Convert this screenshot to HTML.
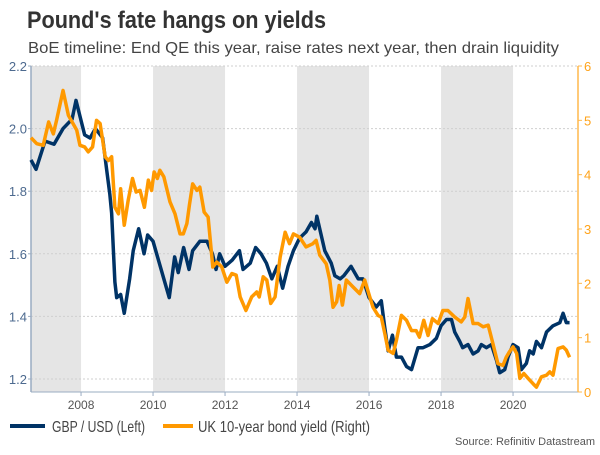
<!DOCTYPE html>
<html><head><meta charset="utf-8"><style>
body{margin:0;width:600px;height:450px;background:#fff;overflow:hidden;font-family:"Liberation Sans",sans-serif}
</style></head><body>
<svg id="chart" width="600" height="450" xmlns="http://www.w3.org/2000/svg">
<text x="27" y="28" font-size="24" font-weight="bold" fill="#333" textLength="299" lengthAdjust="spacingAndGlyphs">Pound's fate hangs on yields</text>
<text x="28" y="53" font-size="16" fill="#444" textLength="531" lengthAdjust="spacingAndGlyphs">BoE timeline: End QE this year, raise rates next year, then drain liquidity</text>
<g id="bands"></g><g id="grid"></g><g id="axes"></g><g id="series"></g>
<line x1="10" y1="426" x2="45" y2="426" stroke="#003366" stroke-width="4"/>
<text x="52" y="432" font-size="16" fill="#444" textLength="93" lengthAdjust="spacingAndGlyphs">GBP / USD (Left)</text>
<line x1="163" y1="426" x2="193" y2="426" stroke="#ff9900" stroke-width="4"/>
<text x="198" y="432" font-size="16" fill="#444" textLength="172" lengthAdjust="spacingAndGlyphs">UK 10-year bond yield (Right)</text>
<text x="595" y="445" font-size="11" fill="#555" text-anchor="end">Source: Refinitiv Datastream</text>
</svg>
<script>
const gbpT=[2006.61,2006.75,2007.0,2007.25,2007.5,2007.75,2007.86,2008.1,2008.25,2008.4,2008.6,2008.71,2008.8,2008.85,2008.94,2008.99,2009.1,2009.2,2009.35,2009.45,2009.6,2009.75,2009.85,2010.0,2010.15,2010.3,2010.45,2010.6,2010.7,2010.85,2011.0,2011.1,2011.3,2011.5,2011.65,2011.75,2011.85,2012.0,2012.2,2012.4,2012.5,2012.7,2012.85,2013.0,2013.15,2013.3,2013.45,2013.6,2013.75,2013.9,2014.07,2014.25,2014.4,2014.5,2014.55,2014.63,2014.77,2014.95,2015.05,2015.2,2015.3,2015.5,2015.7,2015.83,2016.0,2016.2,2016.34,2016.43,2016.53,2016.65,2016.76,2016.9,2017.04,2017.18,2017.36,2017.5,2017.69,2017.87,2018.0,2018.15,2018.29,2018.38,2018.52,2018.6,2018.75,2018.89,2019.03,2019.12,2019.26,2019.4,2019.54,2019.63,2019.77,2019.86,2020.0,2020.14,2020.23,2020.37,2020.46,2020.56,2020.65,2020.79,2020.93,2021.11,2021.3,2021.39,2021.48,2021.57];
const gbpV=[1.90,1.87,1.96,1.95,2.00,2.03,2.09,1.98,1.97,2.00,1.97,1.87,1.79,1.73,1.51,1.46,1.47,1.41,1.52,1.61,1.68,1.60,1.66,1.64,1.58,1.52,1.46,1.59,1.54,1.62,1.55,1.61,1.64,1.64,1.60,1.55,1.60,1.56,1.58,1.61,1.55,1.57,1.62,1.60,1.57,1.52,1.56,1.49,1.56,1.61,1.65,1.67,1.70,1.68,1.72,1.68,1.61,1.57,1.53,1.52,1.53,1.56,1.52,1.52,1.46,1.43,1.45,1.37,1.29,1.34,1.27,1.27,1.24,1.23,1.30,1.30,1.31,1.33,1.37,1.39,1.39,1.35,1.32,1.30,1.31,1.28,1.29,1.31,1.30,1.31,1.26,1.22,1.23,1.27,1.31,1.30,1.23,1.25,1.29,1.28,1.32,1.30,1.35,1.37,1.38,1.41,1.38,1.38];
const ylT=[2006.61,2006.77,2006.95,2007.1,2007.23,2007.32,2007.5,2007.65,2007.88,2007.97,2008.1,2008.2,2008.32,2008.43,2008.53,2008.67,2008.76,2008.85,2008.94,2009.04,2009.1,2009.2,2009.31,2009.43,2009.53,2009.64,2009.76,2009.87,2009.96,2010.03,2010.12,2010.19,2010.3,2010.47,2010.61,2010.75,2010.84,2010.94,2011.01,2011.1,2011.22,2011.3,2011.42,2011.53,2011.66,2011.77,2011.91,2012.05,2012.19,2012.31,2012.42,2012.58,2012.74,2012.88,2012.95,2013.06,2013.16,2013.27,2013.39,2013.53,2013.67,2013.79,2013.9,2014.07,2014.25,2014.44,2014.53,2014.63,2014.81,2014.91,2015.0,2015.1,2015.17,2015.26,2015.37,2015.56,2015.74,2015.88,2016.02,2016.11,2016.25,2016.34,2016.44,2016.53,2016.67,2016.76,2016.9,2017.04,2017.18,2017.31,2017.4,2017.52,2017.64,2017.76,2017.92,2018.05,2018.19,2018.38,2018.56,2018.66,2018.75,2018.89,2019.03,2019.17,2019.31,2019.43,2019.58,2019.72,2019.81,2019.9,2020.0,2020.1,2020.19,2020.3,2020.42,2020.56,2020.65,2020.79,2020.93,2021.02,2021.11,2021.25,2021.39,2021.48,2021.57];
const ylV=[4.68,4.57,4.54,4.97,4.75,5.0,5.55,5.09,4.82,4.54,4.51,4.42,4.51,5.0,4.94,4.33,4.26,4.33,3.4,3.28,3.74,3.07,3.53,3.93,3.68,3.71,3.4,3.9,3.71,4.05,3.93,4.08,3.96,3.5,3.28,2.91,2.91,3.1,3.44,3.83,3.71,3.77,3.31,3.22,2.3,2.39,2.3,2.02,2.18,2.15,1.75,1.5,1.75,1.84,1.75,2.12,2.06,1.63,1.75,2.48,2.94,2.73,2.91,2.85,2.67,2.73,2.79,2.52,2.36,2.06,1.56,1.66,1.96,1.6,2.06,1.93,1.81,2.06,1.75,1.56,1.41,1.38,1.07,0.77,0.71,0.95,1.41,1.32,1.13,1.13,1.01,1.32,1.04,1.35,1.26,1.5,1.5,1.38,1.29,1.38,1.72,1.26,1.26,1.2,1.23,0.92,0.52,0.49,0.64,0.74,0.83,0.71,0.25,0.34,0.25,0.15,0.09,0.28,0.31,0.37,0.31,0.8,0.83,0.77,0.64];
const yearTicks=[2008,2010,2012,2014,2016,2018,2020];
const leftTicks=[1.2,1.4,1.6,1.8,2.0,2.2];
const rightTicks=[0,1,2,3,4,5,6];
const bandStarts=[2006.61,2010,2014,2018];

const X0=31,X1=578,T0=2006.61,PX=36,TOP=66,BOT=392;
const x=t=>X0+(t-T0)*PX;
const yL=v=>TOP+(2.2-v)*313;
const yR=v=>TOP+(6-v)*(BOT-TOP)/6;
const NS='http://www.w3.org/2000/svg';
function mk(tag,attrs,parent,txt){const e=document.createElementNS(NS,tag);for(const k in attrs)e.setAttribute(k,attrs[k]);if(txt!==undefined)e.textContent=txt;document.getElementById(parent).appendChild(e);return e;}
bandStarts.forEach(b=>{const e2=b<2008?2008:b+2;const r=mk('rect',{x:x(b),y:TOP,width:x(e2)-x(b),height:BOT-TOP,fill:'#e5e5e5'},'bands');

});
leftTicks.forEach(v=>{const l=mk('line',{x1:X0,x2:X1,y1:yL(v),y2:yL(v),stroke:'#cfcfcf','stroke-dasharray':'2,2','stroke-width':1},'grid');


const t=mk('text',{x:27,y:yL(v)+5,'font-size':13,fill:'#4d6a8f','text-anchor':'end'},'axes',v.toFixed(1));


mk('line',{x1:X0-3,x2:X0,y1:yL(v),y2:yL(v),stroke:'#9aacc2'},'axes');});
rightTicks.forEach(v=>{const t=mk('text',{x:584,y:yR(v)+5,'font-size':13,fill:'#ffa31a'},'axes',String(v));


mk('line',{x1:X1,x2:X1+4,y1:yR(v),y2:yR(v),stroke:'#ffb84d'},'axes');});
yearTicks.forEach(yr=>{const t=mk('text',{x:x(yr),y:409,'font-size':12,fill:'#555','text-anchor':'middle'},'axes',String(yr));


mk('line',{x1:x(yr),x2:x(yr),y1:BOT,y2:BOT+4,stroke:'#9aacc2'},'axes');});
const la=mk('line',{x1:X0,x2:X0,y1:TOP,y2:BOT,stroke:'#9aacc2','stroke-width':1.5},'axes');


const ba=mk('line',{x1:X0,x2:X1,y1:BOT,y2:BOT,stroke:'#9aacc2','stroke-width':1},'axes');


const ra=mk('line',{x1:X1,x2:X1,y1:TOP,y2:BOT,stroke:'#ffb84d','stroke-width':1.5},'axes');


const p1=mk('polyline',{points:gbpT.map((t,i)=>x(t)+','+yL(gbpV[i])).join(' '),fill:'none',stroke:'#003366','stroke-width':3.5,'stroke-linejoin':'round'},'series');


const p2=mk('polyline',{points:ylT.map((t,i)=>x(t)+','+yR(ylV[i])).join(' '),fill:'none',stroke:'#ff9900','stroke-width':3.5,'stroke-linejoin':'round'},'series');


</script>
</body></html>
